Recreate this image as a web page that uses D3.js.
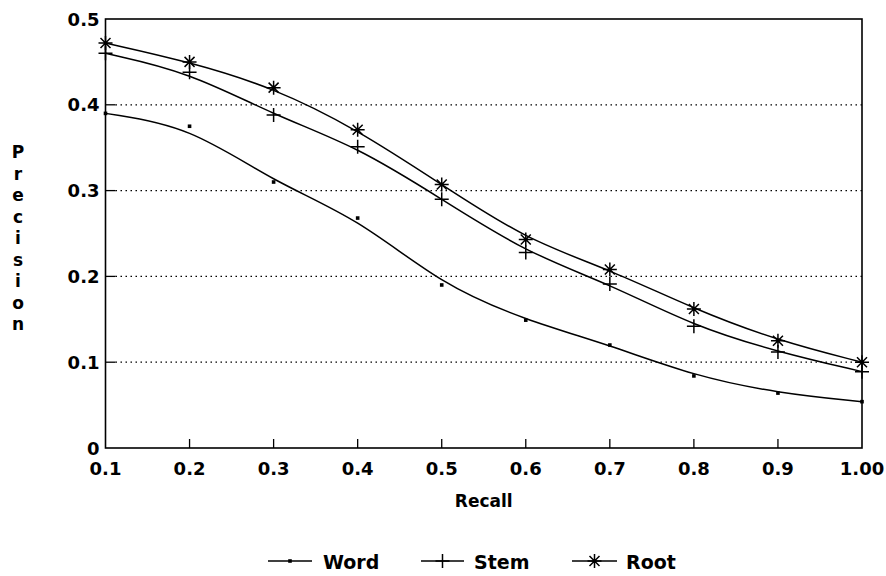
<!DOCTYPE html>
<meta charset="utf-8">
<style>
body { margin: 0; background: #fff; }
text { font-family: "DejaVu Sans", "Liberation Sans", Arial, sans-serif; font-weight: bold; fill: #000; }
</style>
<script src="https://d3js.org/d3.v7.min.js"></script>
<svg id="chart" width="886" height="576"></svg>
<script>
// recall levels and precision values
var recall = [0.1, 0.2, 0.3, 0.4, 0.5, 0.6, 0.7, 0.8, 0.9, 1.0];
var word = [0.390, 0.375, 0.310, 0.268, 0.190, 0.149, 0.120, 0.084, 0.064, 0.054];
var stem = [0.460, 0.438, 0.388, 0.351, 0.290, 0.228, 0.191, 0.142, 0.112, 0.089];
var root = [0.472, 0.450, 0.420, 0.371, 0.307, 0.243, 0.208, 0.162, 0.125, 0.100];
var xTickLabels = ["0.1", "0.2", "0.3", "0.4", "0.5", "0.6", "0.7", "0.8", "0.9", "1.00"];
var yTicks = [0, 0.1, 0.2, 0.3, 0.4, 0.5];

var svg = d3.select("#chart");
// plot box (don't call it "top", that's window.top)
var pL = 105.5, pR = 862, pT = 19, pB = 448;

var x = d3.scaleLinear().domain([0.1, 1.0]).range([pL, pR]);
var y = d3.scaleLinear().domain([0, 0.5]).range([pB, pT]);

var inner = yTicks.filter(function(d) { return d > 0 && d < 0.5; });

// dotted grid
svg.append("g").selectAll("line")
  .data(inner)
  .enter().append("line")
  .attr("x1", pL + 10).attr("x2", pR)
  .attr("y1", function(d) { return y(d); }).attr("y2", function(d) { return y(d); })
  .attr("stroke", "#000").attr("stroke-width", 1.2).attr("stroke-dasharray", "1.5,3.5");

// short inward ticks
svg.append("g").selectAll("line")
  .data(inner)
  .enter().append("line")
  .attr("x1", pL).attr("x2", pL + 10)
  .attr("y1", function(d) { return y(d); }).attr("y2", function(d) { return y(d); })
  .attr("stroke", "#000").attr("stroke-width", 1.3);

svg.append("g").selectAll("line")
  .data(recall.slice(1, 9))
  .enter().append("line")
  .attr("x1", function(d) { return x(d); }).attr("x2", function(d) { return x(d); })
  .attr("y1", pB).attr("y2", pB - 9)
  .attr("stroke", "#000").attr("stroke-width", 1.3);

// frame
svg.append("rect")
  .attr("x", pL).attr("y", pT)
  .attr("width", pR - pL).attr("height", pB - pT)
  .attr("fill", "none").attr("stroke", "#000").attr("stroke-width", 1.6);

// tick labels
svg.append("g").selectAll("text")
  .data(yTicks).enter().append("text")
  .attr("x", pL - 6).attr("y", function(d) { return y(d) + 6.5; })
  .attr("text-anchor", "end").style("font-size", "18px")
  .text(function(d) { return d === 0 ? "0" : d.toFixed(1); });

svg.append("g").selectAll("text")
  .data(recall).enter().append("text")
  .attr("x", function(d) { return x(d); }).attr("y", pB + 27)
  .attr("text-anchor", "middle").style("font-size", "18px")
  .text(function(d, i) { return xTickLabels[i]; });

// axis titles
svg.append("text")
  .attr("x", (pL + pR) / 2).attr("y", pB + 59)
  .attr("text-anchor", "middle").style("font-size", "17px")
  .text("Recall");

svg.append("g").selectAll("text")
  .data("Precision".split("")).enter().append("text")
  .attr("x", 18).attr("y", function(d, i) { return 158 + i * 21.5; })
  .attr("text-anchor", "middle").style("font-size", "17px")
  .text(function(d) { return d; });

// curves
var line = d3.line()
  .x(function(d, i) { return x(recall[i]); })
  .y(function(d) { return y(d); })
  .curve(d3.curveBasis);

[word, stem, root].forEach(function(s) {
  svg.append("path").attr("d", line(s))
    .attr("fill", "none").attr("stroke", "#000").attr("stroke-width", 1.5);
});

// marker drawers
function drawDot(g, cx, cy) {
  g.append("rect").attr("x", cx - 1.8).attr("y", cy - 1.8)
    .attr("width", 3.6).attr("height", 3.6).attr("fill", "#000");
}
function drawPlus(g, cx, cy) {
  g.append("path")
    .attr("d", "M" + (cx - 7) + "," + cy + "H" + (cx + 7) + "M" + cx + "," + (cy - 7) + "V" + (cy + 7))
    .attr("stroke", "#000").attr("stroke-width", 1.5).attr("fill", "none");
}
function drawStar(g, cx, cy) {
  var r = 7, d = 5;
  g.append("path")
    .attr("d", "M" + (cx - r) + "," + cy + "H" + (cx + r) +
      "M" + cx + "," + (cy - r) + "V" + (cy + r) +
      "M" + (cx - d) + "," + (cy - d) + "L" + (cx + d) + "," + (cy + d) +
      "M" + (cx - d) + "," + (cy + d) + "L" + (cx + d) + "," + (cy - d))
    .attr("stroke", "#000").attr("stroke-width", 1.5).attr("fill", "none");
}

var mk = svg.append("g");
word.forEach(function(v, i) { drawDot(mk, x(recall[i]), y(v)); });
stem.forEach(function(v, i) { drawPlus(mk, x(recall[i]), y(v)); });
root.forEach(function(v, i) { drawStar(mk, x(recall[i]), y(v)); });

// legend
var legendItems = [
  { name: "Word", x0: 268, x1: 312, tx: 323, draw: drawDot },
  { name: "Stem", x0: 421, x1: 464, tx: 474, draw: drawPlus },
  { name: "Root", x0: 572, x1: 617, tx: 626, draw: drawStar }
];
var ly = 561;
legendItems.forEach(function(it) {
  var lg = svg.append("g");
  lg.append("line").attr("x1", it.x0).attr("x2", it.x1)
    .attr("y1", ly).attr("y2", ly).attr("stroke", "#000").attr("stroke-width", 1.5);
  it.draw(lg, (it.x0 + it.x1) / 2, ly);
  lg.append("text").attr("x", it.tx).attr("y", ly + 8)
    .style("font-size", "19px").text(it.name);
});
</script>
